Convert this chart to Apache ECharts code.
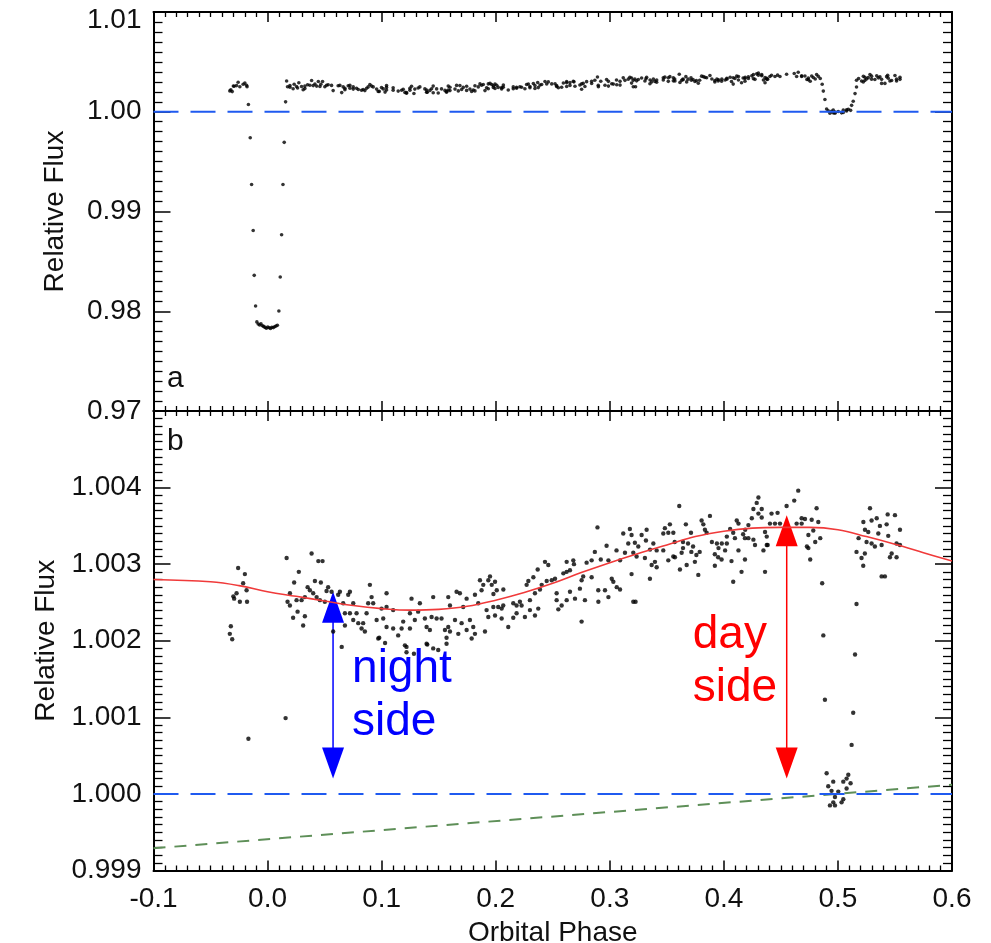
<!DOCTYPE html>
<html>
<head>
<meta charset="utf-8">
<script src="https://cdn.jsdelivr.net/npm/echarts@6/dist/echarts.min.js"></script>
<style>
html,body{margin:0;padding:0;background:#fff;}
#chart{width:991px;height:943px;}
</style>
</head>
<body>
<div id="chart"></div>
<script>
// ---- data (orbital phase, relative flux) ----
const observations = [
[-0.0331,1.00209],[-0.0322,1.00219],[-0.0310,1.00202],[-0.0300,1.00258],[-0.0293,1.00255],[-0.0272,1.00262],
[-0.0258,1.00295],[-0.0243,1.00251],[-0.0214,1.00275],[-0.0199,1.00287],[-0.0184,1.00266],[-0.0180,1.00251],
[-0.0168,1.00072],[-0.0152,0.99740],[-0.0140,0.99270],[-0.0126,0.98810],[-0.0117,0.98360],[-0.0105,0.98053],
[-0.0094,0.97893],[-0.0082,0.97872],[-0.0070,0.97862],[-0.0058,0.97875],[-0.0046,0.97855],[-0.0034,0.97848],
[-0.0022,0.97838],[-0.0010,0.97830],[0.0002,0.97842],[0.0014,0.97835],[0.0026,0.97828],[0.0038,0.97840],
[0.0050,0.97836],[0.0062,0.97845],[0.0074,0.97852],[0.0086,0.97860],
[0.0099,0.98003],[0.0111,0.98343],[0.0123,0.98767],[0.0135,0.99270],[0.0146,0.99693],[0.0158,1.00099],
[0.0167,1.00308],[0.0386,1.00314],[0.0445,1.00304],[0.0482,1.00304],[0.0274,1.00290],[0.0233,1.00276],
[0.0415,1.00278],[0.0467,1.00276],[0.0351,1.00270],[0.0371,1.00266],[0.0531,1.00270],[0.0517,1.00265],
[0.0561,1.00264],[0.0634,1.00264],[0.0619,1.00260],[0.0722,1.00264],[0.0707,1.00260],[0.0196,1.00262],
[0.0175,1.00251],[0.0196,1.00246],[0.0254,1.00253],[0.0298,1.00253],[0.0327,1.00257],[0.0400,1.00262],
[0.0430,1.00257],[0.0459,1.00253],[0.0502,1.00251],[0.0263,1.00238],[0.0327,1.00232],[0.0224,1.00230],
[0.0312,1.00220],[0.0663,1.00249],[0.0751,1.00249],[0.0678,1.00236],[0.0722,1.00236],[0.0780,1.00236],
[0.0678,1.00220],[0.0751,1.00227],[0.0795,1.00223],[0.0575,1.00212],[0.0650,1.00192],[0.0824,1.00216],
[0.0897,1.00273],[0.0912,1.00257],[0.1043,1.00262],[0.0882,1.00249],[0.0926,1.00249],[0.0999,1.00242],
[0.1043,1.00244],[0.1101,1.00240],[0.0868,1.00236],[0.0956,1.00227],[0.1014,1.00229],[0.0838,1.00223],
[0.1043,1.00218],[0.1101,1.00216],[0.0853,1.00212],[0.1189,1.00225],[0.1262,1.00255],[0.1335,1.00249],
[0.1248,1.00236],[0.1320,1.00238],[0.1291,1.00227],[0.1175,1.00216],[0.1248,1.00216],[0.1145,1.00207],
[0.0970,1.00203],[0.1204,1.00194],[0.1394,1.00196],[0.1452,1.00190],[0.1496,1.00188],[0.1379,1.00229],
[0.1438,1.00231],[0.1482,1.00229],[0.1525,1.00229],[0.1394,1.00218],[0.1423,1.00214],[0.1555,1.00214],
[0.1599,1.00212],[0.1584,1.00218],[0.1643,1.00227],[0.1569,1.00204],[0.1452,1.00257],[0.1584,1.00257],
[0.1657,1.00264],[0.1686,1.00262],[0.1745,1.00255],[0.1599,1.00246],[0.1715,1.00244],[0.1818,1.00260],
[0.1774,1.00227],[0.1701,1.00223],[0.1745,1.00214],[0.1803,1.00218],[0.1672,1.00209],[0.1818,1.00209],
[0.1906,1.00212],[0.1862,1.00279],[0.1891,1.00273],[0.1935,1.00279],[0.1876,1.00266],[0.1847,1.00249],
[0.1920,1.00240],[0.1979,1.00244],[0.1994,1.00233],[0.1935,1.00231],[0.1789,1.00203],[0.1569,1.00196],
[0.1218,1.00185],[0.0979,1.00204],[0.1218,1.00192],[0.1283,1.00183],[0.1400,1.00195],[0.1030,1.00197],
[0.2892,1.00348],[0.3118,1.00340],[0.3176,1.00346],[0.3191,1.00338],[0.3162,1.00327],[0.2972,1.00324],
[0.3059,1.00318],[0.2869,1.00316],[0.3133,1.00315],[0.3206,1.00315],[0.2921,1.00306],[0.2988,1.00305],
[0.3090,1.00305],[0.2841,1.00305],[0.2797,1.00302],[0.2622,1.00303],[0.2680,1.00305],[0.2686,1.00300],
[0.2432,1.00303],[0.2461,1.00299],[0.2368,1.00293],[0.2622,1.00290],[0.2593,1.00288],[0.2651,1.00292],
[0.2767,1.00284],[0.2841,1.00283],[0.2520,1.00281],[0.2491,1.00279],[0.2447,1.00278],[0.2330,1.00283],
[0.2286,1.00278],[0.2271,1.00273],[0.2403,1.00273],[0.1950,1.00284],[0.1994,1.00277],[0.1965,1.00273],
[0.2067,1.00267],[0.2009,1.00266],[0.1980,1.00261],[0.2344,1.00262],[0.2388,1.00267],[0.2534,1.00262],
[0.2651,1.00264],[0.2738,1.00268],[0.2753,1.00279],[0.2695,1.00255],[0.2782,1.00253],[0.2958,1.00266],
[0.2899,1.00266],[0.3017,1.00281],[0.3031,1.00277],[0.3061,1.00270],[0.3090,1.00267],[0.2988,1.00257],
[0.2900,1.00251],[0.3206,1.00251],[0.2534,1.00253],[0.2578,1.00246],[0.2549,1.00241],[0.2622,1.00253],
[0.2300,1.00253],[0.2212,1.00251],[0.2227,1.00246],[0.2183,1.00246],[0.2154,1.00249],[0.2066,1.00246],
[0.2022,1.00244],[0.2052,1.00242],[0.2300,1.00240],[0.2373,1.00242],[0.2183,1.00236],[0.2256,1.00231],
[0.2344,1.00233],[0.2154,1.00230],[0.2052,1.00229],[0.2110,1.00218],[0.2753,1.00225],
[0.3609,1.00376],[0.4303,1.00387],[0.4288,1.00380],[0.4259,1.00372],[0.4332,1.00372],[0.4303,1.00366],
[0.4245,1.00360],[0.4332,1.00361],[0.4215,1.00351],[0.4113,1.00357],[0.4128,1.00353],[0.4055,1.00346],
[0.4187,1.00345],[0.3878,1.00363],[0.3805,1.00357],[0.3820,1.00352],[0.3667,1.00352],[0.3527,1.00352],
[0.3483,1.00347],[0.3469,1.00340],[0.3513,1.00341],[0.3557,1.00341],[0.3323,1.00345],[0.3279,1.00338],
[0.3317,1.00331],[0.3220,1.00328],[0.3712,1.00341],[0.3834,1.00345],[0.3849,1.00341],[0.3569,1.00329],
[0.3642,1.00329],[0.3686,1.00327],[0.4082,1.00341],[0.4169,1.00339],[0.4097,1.00334],[0.4185,1.00334],
[0.4215,1.00334],[0.4259,1.00332],[0.4273,1.00325],[0.4361,1.00342],[0.4376,1.00336],[0.4376,1.00325],
[0.4026,1.00336],[0.4026,1.00327],[0.3982,1.00327],[0.3939,1.00327],[0.3895,1.00329],[0.3953,1.00321],
[0.4011,1.00318],[0.4128,1.00318],[0.4347,1.00318],[0.3730,1.00323],[0.3788,1.00316],[0.3759,1.00312],
[0.3642,1.00321],[0.3715,1.00316],[0.3630,1.00315],[0.3557,1.00310],[0.3469,1.00318],[0.3411,1.00318],
[0.3382,1.00327],[0.3353,1.00319],[0.3250,1.00323],[0.3235,1.00310],[0.3308,1.00308],[0.3396,1.00303],
[0.3367,1.00299],[0.3411,1.00296],[0.3513,1.00305],[0.3571,1.00309],[0.3746,1.00303],[0.3921,1.00313],
[0.3950,1.00309],[0.3980,1.00306],[0.4067,1.00304],[0.3921,1.00298],[0.4185,1.00306],[0.3615,1.00293],
[0.3674,1.00299],[0.3776,1.00286],[0.4155,1.00290],[0.4082,1.00277],[0.3352,1.00281],[0.3191,1.00287],
[0.4361,1.00290],[0.3226,1.00251],
[0.4652,1.00396],[0.4617,1.00383],[0.4550,1.00376],[0.4418,1.00366],[0.4471,1.00367],[0.4813,1.00373],
[0.4404,1.00353],[0.4448,1.00353],[0.4492,1.00353],[0.4638,1.00353],[0.4682,1.00360],[0.4711,1.00359],
[0.4682,1.00353],[0.4770,1.00358],[0.4828,1.00355],[0.4784,1.00344],[0.4741,1.00338],[0.4384,1.00325],
[0.4845,1.00334],[0.4801,1.00329],[0.4728,1.00323],[0.4741,1.00321],[0.4757,1.00306],[0.4862,1.00275],
[0.4872,1.00207],[0.4886,1.00123],[0.4901,1.00027],[0.4915,1.00010],[0.4959,1.00016],[0.4944,1.00004],
[0.4930,0.99985],[0.4959,0.99989],[0.4974,0.99985],[0.4974,0.99996],[0.5003,1.00003],[0.5032,0.99989],
[0.5047,0.99993],[0.5047,1.00016],[0.5076,1.00007],[0.5076,1.00020],[0.5091,1.00025],[0.5111,1.00014],
[0.5120,1.00064],[0.5134,1.00106],[0.5150,1.00182],[0.5163,1.00248],
[0.5281,1.00373],[0.5223,1.00355],[0.5340,1.00360],[0.5436,1.00365],[0.5500,1.00364],[0.5295,1.00357],
[0.5368,1.00350],[0.5427,1.00352],[0.5237,1.00345],[0.5266,1.00342],[0.5354,1.00340],[0.5544,1.00345],
[0.5181,1.00334],[0.5441,1.00337],[0.5251,1.00329],[0.5295,1.00327],[0.5324,1.00323],[0.5383,1.00325],
[0.5514,1.00327],[0.5544,1.00325],[0.5163,1.00316],[0.5236,1.00314],[0.5207,1.00308],[0.5471,1.00314],
[0.5456,1.00309],[0.5514,1.00309],[0.5222,1.00298],[0.5383,1.00284],[0.5412,1.00284]
];

// phase-curve model (red)
const modelPhase = [-0.10,-0.05,-0.025,0.00,0.025,0.05,0.075,0.10,0.125,0.15,0.175,0.20,0.225,0.25,0.275,0.30,0.325,0.35,0.375,0.40,0.425,0.45,0.475,0.50,0.525,0.55,0.575,0.60];
const modelFlux  = [1.00280,1.00277,1.00272,1.00264,1.00258,1.00252,1.00246,1.00242,1.00240,1.00241,1.00245,1.00253,1.00263,1.00275,1.00289,1.00302,1.00314,1.00325,1.00336,1.00343,1.00347,1.00348,1.00348,1.00345,1.00336,1.00326,1.00315,1.00304];

// stellar baseline trend (green dashed)
const trendPhase = [-0.1, 0.6];
const trendFlux  = [0.99929, 1.00012];

// unit flux reference (blue dashed)
const unityPhase = [-0.1, 0.6];
const unityFlux  = [1.0, 1.0];

// annotation arrows
const arrowPhase  = [0.0574, 0.4551];
const arrowTop    = [1.00264, 1.00364];
const arrowBottom = [1.00020, 1.00020];
const arrowLabels = ['night\nside', 'day\nside'];

// axis ticks
const xTicks = { min: -0.1, max: 0.6, interval: 0.1 };
const yTopTicks = { min: 0.97, max: 1.01, interval: 0.01 };
const yBotTicks = { min: 0.999, max: 1.005, interval: 0.001 };

// ---- chart ----
const FONT = '"Liberation Sans", Arial, Helvetica, sans-serif';
const chart = echarts.init(document.getElementById('chart'), null, { renderer: 'canvas' });

const GL = 153.5, GR = 39;
const grids = [
  { left: GL, right: GR, top: 12, height: 399, outerBoundsMode: 'none', containLabel: false },
  { left: GL, right: GR, top: 411, height: 459.5, outerBoundsMode: 'none', containLabel: false }
];

function xAx(grid, pos, labels) {
  return {
    type: 'value', gridIndex: grid, position: pos,
    min: xTicks.min, max: xTicks.max, interval: xTicks.interval,
    axisLine: { show: true, onZero: false, lineStyle: { color: '#000', width: 2 } },
    axisTick: { show: true, inside: true, length: 10, lineStyle: { color: '#000', width: 1.5 } },
    minorTick: { show: true, splitNumber: 10, length: 5, lineStyle: { color: '#000', width: 1.3 } },
    splitLine: { show: false }, minorSplitLine: { show: false },
    axisLabel: labels ? { show: true, fontFamily: FONT, fontSize: 28, color: '#111', margin: 15,
      formatter: v => v.toFixed(1) } : { show: false },
    name: labels ? 'Orbital Phase' : '', nameLocation: 'middle', nameGap: 49,
    nameTextStyle: { fontFamily: FONT, fontSize: 28, color: '#111' }
  };
}
function yAx(grid, pos, t, labels, digits, name, hideTop) {
  return {
    type: 'value', gridIndex: grid, position: pos,
    min: t.min, max: t.max, interval: t.interval,
    axisLine: { show: true, onZero: false, lineStyle: { color: '#000', width: 2 } },
    axisTick: { show: true, inside: true, length: 17, lineStyle: { color: '#000', width: 1.5 } },
    minorTick: { show: true, splitNumber: 10, length: 9, lineStyle: { color: '#000', width: 1.3 } },
    splitLine: { show: false }, minorSplitLine: { show: false },
    axisLabel: labels ? { show: true, fontFamily: FONT, fontSize: 28, color: '#111', margin: 12,
      formatter: v => {
        if (Math.abs(v - t.max) < 1e-9) return hideTop ? '' : '{top|' + v.toFixed(digits) + '}';
        return v.toFixed(digits);
      },
      rich: { top: { fontFamily: FONT, fontSize: 28, color: '#111', padding: [16, 0, 0, 0] } } } : { show: false },
    name: name || '', nameLocation: 'middle', nameGap: 84,
    nameTextStyle: { fontFamily: FONT, fontSize: 28, color: '#111' }
  };
}

const zip = (a, b) => a.map((v, i) => [v, b[i]]);

const option = {
  backgroundColor: '#fff',
  animation: false,
  grid: grids,
  xAxis: [xAx(0, 'bottom', false), xAx(0, 'top', false), xAx(1, 'bottom', true), xAx(1, 'top', false)],
  yAxis: [
    yAx(0, 'left', yTopTicks, true, 2, 'Relative Flux', false),
    yAx(0, 'right', yTopTicks, false),
    yAx(1, 'left', yBotTicks, true, 3, 'Relative Flux', true),
    yAx(1, 'right', yBotTicks, false)
  ],
  graphic: [
    { type: 'text', left: 167, top: 364, style: { text: 'a', font: '30px ' + FONT, fill: '#111' } },
    { type: 'text', left: 167, top: 427, style: { text: 'b', font: '30px ' + FONT, fill: '#111' } }
  ],
  series: [
    { type: 'scatter', xAxisIndex: 0, yAxisIndex: 0, data: observations, symbol: 'circle', symbolSize: 3.6,
      itemStyle: { color: '#000' }, clip: true, silent: true },
    { type: 'line', xAxisIndex: 0, yAxisIndex: 0, data: zip(unityPhase, unityFlux), showSymbol: false,
      lineStyle: { color: '#1f5af0', width: 2, type: [25, 12] }, silent: true },
    { type: 'scatter', xAxisIndex: 2, yAxisIndex: 2, data: observations, symbol: 'circle', symbolSize: 4.4,
      itemStyle: { color: '#000' }, clip: true, silent: true },
    { type: 'line', xAxisIndex: 2, yAxisIndex: 2, data: zip(modelPhase, modelFlux), showSymbol: false, smooth: 0.4,
      lineStyle: { color: '#f03a3a', width: 1.6 }, silent: true },
    { type: 'line', xAxisIndex: 2, yAxisIndex: 2, data: zip(trendPhase, trendFlux), showSymbol: false,
      lineStyle: { color: '#5e8f58', width: 2, type: [12, 9] }, silent: true },
    { type: 'line', xAxisIndex: 2, yAxisIndex: 2, data: zip(unityPhase, unityFlux), showSymbol: false,
      lineStyle: { color: '#1f5af0', width: 2, type: [25, 12] }, silent: true },
    { type: 'custom', xAxisIndex: 2, yAxisIndex: 2, silent: true, clip: false,
      data: arrowPhase.map((p, i) => [p, arrowTop[i], arrowBottom[i], i]),
      renderItem: function (params, api) {
        const i = api.value(3);
        const color = i === 0 ? '#0000ff' : '#ff0000';
        const p1 = api.coord([api.value(0), api.value(1)]);
        const p2 = api.coord([api.value(0), api.value(2)]);
        const hw = 11, hl = 31;
        const x = p1[0];
        const textLeft = i === 0 ? x + 19 : x - 94;
        const textTop = i === 0 ? p2[1] - 136 : p2[1] - 170;
        return { type: 'group', children: [
          { type: 'line', shape: { x1: x, y1: p1[1] + hl - 2, x2: x, y2: p2[1] - hl + 2 },
            style: { stroke: color, lineWidth: 1.5 } },
          { type: 'polygon', shape: { points: [[x, p1[1]], [x - hw, p1[1] + hl], [x + hw, p1[1] + hl]] },
            style: { fill: color } },
          { type: 'polygon', shape: { points: [[x, p2[1]], [x - hw, p2[1] - hl], [x + hw, p2[1] - hl]] },
            style: { fill: color } },
          { type: 'text', x: textLeft, y: textTop,
            style: { text: arrowLabels[i], font: '46px ' + FONT, fill: color, lineHeight: 53,
              align: 'left', verticalAlign: 'top' } }
        ]};
      }
    }
  ]
};
chart.setOption(option);
</script>
</body>
</html>
